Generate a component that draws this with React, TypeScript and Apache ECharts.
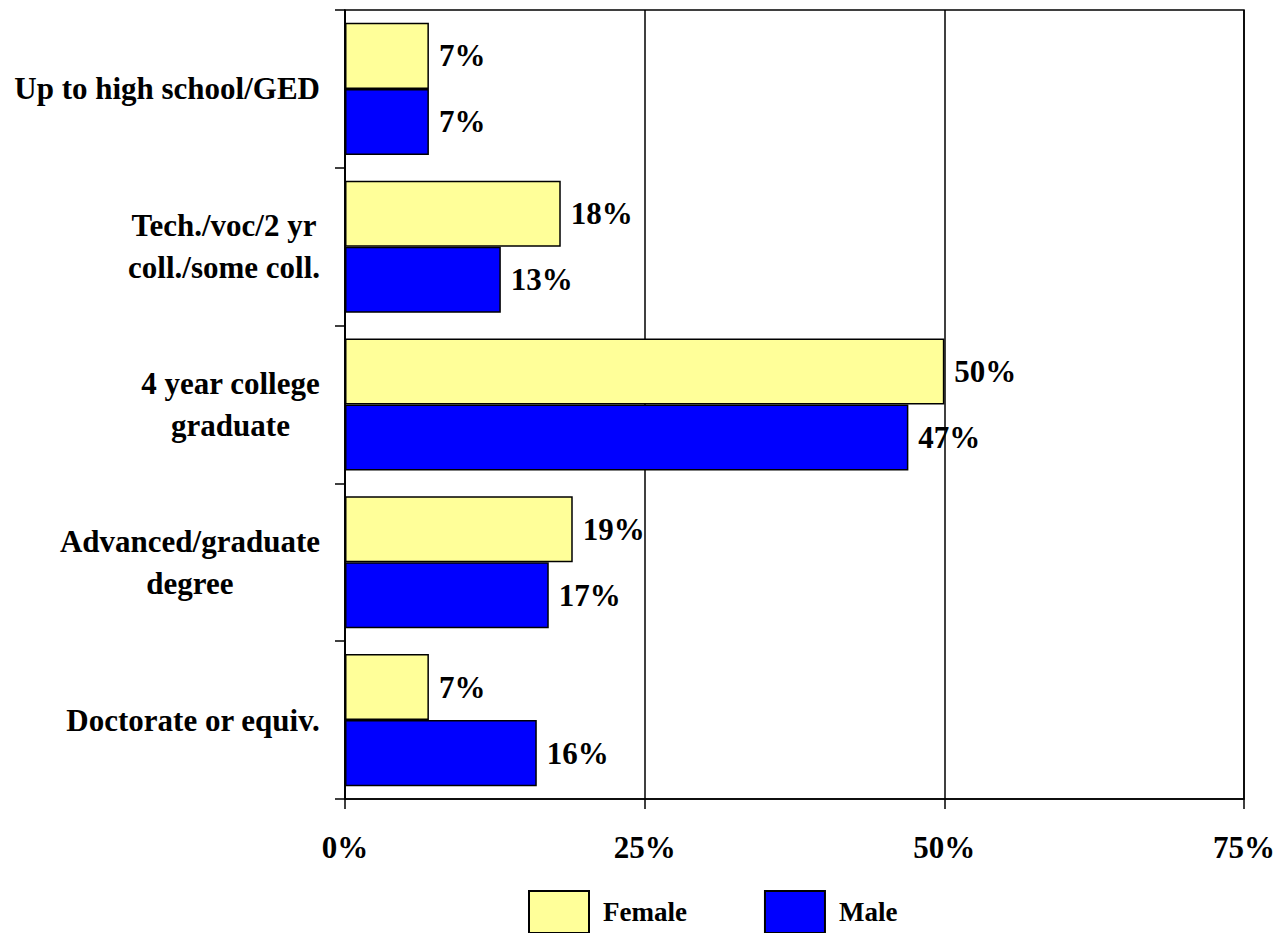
import React, { useEffect, useRef } from "react";
import * as echarts from "echarts";

const categories = [
  "Up to high school/GED",
  "Tech./voc/2 yr\ncoll./some coll.",
  "4 year college\ngraduate",
  "Advanced/graduate\ndegree",
  "Doctorate or equiv.",
];
const femaleValues = [7, 18, 50, 19, 7];
const maleValues = [7, 13, 47, 17, 16];
const xTicks = { min: 0, max: 75, interval: 25 };

const FONT = '"Liberation Serif", "Times New Roman", serif';

export default function App() {
  const ref = useRef<HTMLDivElement>(null);
  useEffect(() => {
    if (!ref.current) return;
    const chart = echarts.init(ref.current, null, { renderer: "svg" });
    const labelStyle = {
      show: true,
      position: "right",
      distance: 10,
      formatter: "{c}%",
      fontSize: 31,
      fontWeight: "bold",
      fontFamily: FONT,
      color: "#000",
    };
    chart.setOption({
      animation: false,
      backgroundColor: "#fff",
      grid: {
        left: 345,
        right: 35,
        top: 10,
        bottom: 134,
        show: true,
        borderColor: "#000",
        borderWidth: 1.5,
        backgroundColor: "transparent",
      },
      legend: {
        data: ["Female", "Male"],
        left: 528,
        top: 890,
        padding: 0,
        itemWidth: 60,
        itemHeight: 42,
        itemGap: 77,
        icon: "rect",
        itemStyle: { borderColor: "#000", borderWidth: 2 },
        textStyle: {
          fontSize: 27,
          fontWeight: "bold",
          fontFamily: FONT,
          color: "#000",
          padding: [8, 0, 0, 9],
        },
      },
      xAxis: {
        type: "value",
        min: xTicks.min,
        max: xTicks.max,
        interval: xTicks.interval,
        axisLine: { show: true, lineStyle: { color: "#000", width: 1.5 } },
        axisTick: { show: true, length: 10, lineStyle: { color: "#000", width: 1.5 } },
        splitLine: { show: true, lineStyle: { color: "#000", width: 1.5 } },
        axisLabel: {
          formatter: "{value}%",
          margin: 33,
          fontSize: 31,
          fontWeight: "bold",
          fontFamily: FONT,
          color: "#000",
        },
      },
      yAxis: {
        type: "category",
        inverse: true,
        data: categories,
        axisLine: { show: true, lineStyle: { color: "#000", width: 1.5 } },
        axisTick: { show: true, length: 10, lineStyle: { color: "#000", width: 1.5 } },
        axisLabel: {
          margin: 25,
          color: "#000",
          formatter: (v: string) =>
            v
              .split("\n")
              .map((l) => `{c|${l}}`)
              .join("\n"),
          rich: {
            c: {
              align: "center",
              fontSize: 31,
              fontWeight: "bold",
              fontFamily: FONT,
              lineHeight: 42,
              color: "#000",
            },
          },
        },
      },
      series: [
        {
          name: "Female",
          type: "bar",
          data: femaleValues,
          barGap: "0%",
          barCategoryGap: "16.3%",
          itemStyle: { color: "#FFFF99", borderColor: "#000", borderWidth: 1.5 },
          label: labelStyle,
        },
        {
          name: "Male",
          type: "bar",
          data: maleValues,
          barGap: "0%",
          barCategoryGap: "16.3%",
          itemStyle: { color: "#0000FF", borderColor: "#000", borderWidth: 1.5 },
          label: labelStyle,
        },
      ],
    });
    return () => chart.dispose();
  }, []);
  return (
    <div
      ref={ref}
      style={{ position: "fixed", left: 0, top: 0, width: 1279, height: 933 }}
    />
  );
}
